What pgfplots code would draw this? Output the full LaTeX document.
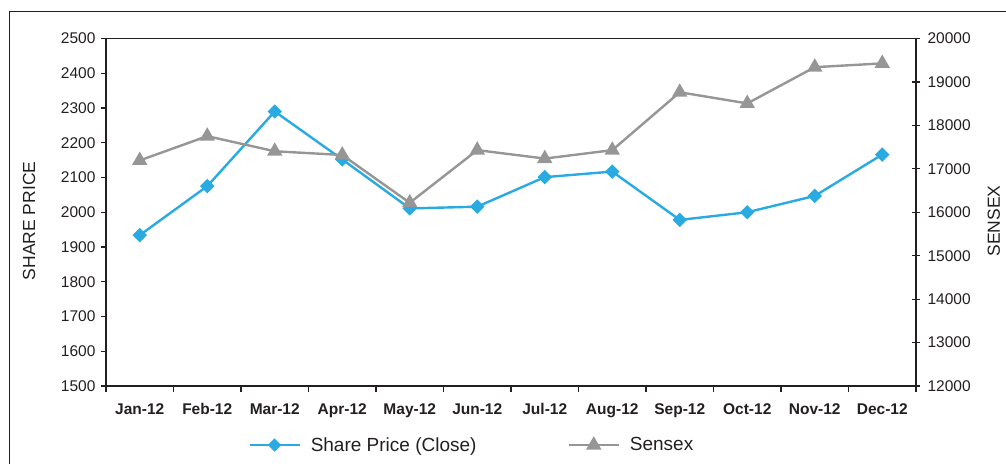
\documentclass[border=0pt]{standalone}
\usepackage{fontspec}
\setmainfont{Liberation Sans}
\usepackage{pgfplots}
\pgfplotsset{compat=1.18}
\definecolor{spblue}{RGB}{41,171,226}
\definecolor{sxgray}{RGB}{150,150,150}
\definecolor{axdark}{RGB}{35,31,32}
\begin{document}
\begin{tikzpicture}[x=1pt,y=1pt]
\useasboundingbox (0,0) rectangle (1006,463);
\draw[axdark, line width=1.2pt] (9.5,-5) -- (9.5,451.8) -- (1015,451.8);
\pgfplotsset{
  every axis/.append style={
    scale only axis, width=810pt, height=347.5pt,
    at={(106pt,77pt)}, anchor=south west,
    xmin=0.5, xmax=12.5,
    font=\fontsize{15.5}{18}\selectfont,
    axis line style={axdark, line width=1.2pt},
    tick style={axdark, line width=1.2pt},
    /pgf/number format/assume math mode=true,
    /pgf/number format/1000 sep={},
    ticklabel style={text=axdark},
    scaled y ticks=false,
  },
}
\begin{axis}[
  ymin=1500, ymax=2500, ytick={1500,1600,...,2500},
  xtick={0.5,1.5,...,12.5}, x tick label as interval,
  xticklabels={Jan-12,Feb-12,Mar-12,Apr-12,May-12,Jun-12,Jul-12,Aug-12,Sep-12,Oct-12,Nov-12,Dec-12},
  xtick pos=bottom, ytick pos=left,
  tick align=outside, major tick length=5.5pt,
  xticklabel style={font=\fontsize{15.5}{18}\bfseries\selectfont, text height=11.5pt, text depth=3.5pt, yshift=-8pt},
  yticklabel style={xshift=-1.5pt},
  ylabel={SHARE PRICE},
  ylabel style={at={(axis description cs:-0.095,0.475)}, anchor=center, font=\fontsize{17.5}{20}\selectfont, text=axdark},
]
\addplot[spblue, line width=2.4pt, mark=square*, mark size=3.9pt, mark options={rotate=45}]
  coordinates {(1,1934) (2,2075) (3,2290) (4,2152) (5,2011) (6,2016) (7,2101) (8,2117) (9,1978) (10,2000) (11,2047) (12,2166)};
\end{axis}
\begin{axis}[
  ymin=12000, ymax=20000, ytick={12000,13000,...,20000},
  axis x line=none, axis y line*=right,
  ytick align=center, major tick length=8pt,
  yticklabel style={xshift=4pt},
  ylabel={SENSEX},
  ylabel style={at={(axis description cs:1.096,0.475)}, anchor=center, font=\fontsize{17.5}{20}\selectfont, text=axdark},
  legend columns=2,
  legend style={draw=none, fill=none, at={(0.1755,-0.170)}, anchor=west, inner sep=0pt,
    font=\fontsize{19}{22}\selectfont, text=axdark,
    /tikz/every odd column/.append style={column sep=8pt},
    /tikz/every even column/.append style={column sep=89pt},
    /tikz/column 3/.append style={column sep=11pt}},
  legend image code/.code={\draw[mark repeat=2,mark phase=2] plot coordinates {(0pt,0pt)(25pt,0pt)(50pt,0pt)};},
]
\addlegendimage{spblue, line width=2.4pt, mark=square*, mark size=3.5pt, mark options={rotate=45}}
\addlegendentry{Share Price (Close)}
\addplot[sxgray, line width=2.4pt, mark=triangle*, mark size=6.5pt]
  coordinates {(1,17193) (2,17752) (3,17404) (4,17318) (5,16218) (6,17430) (7,17236) (8,17429) (9,18763) (10,18505) (11,19340) (12,19427)};
\addlegendentry{Sensex}
\end{axis}
\end{tikzpicture}
\end{document}
